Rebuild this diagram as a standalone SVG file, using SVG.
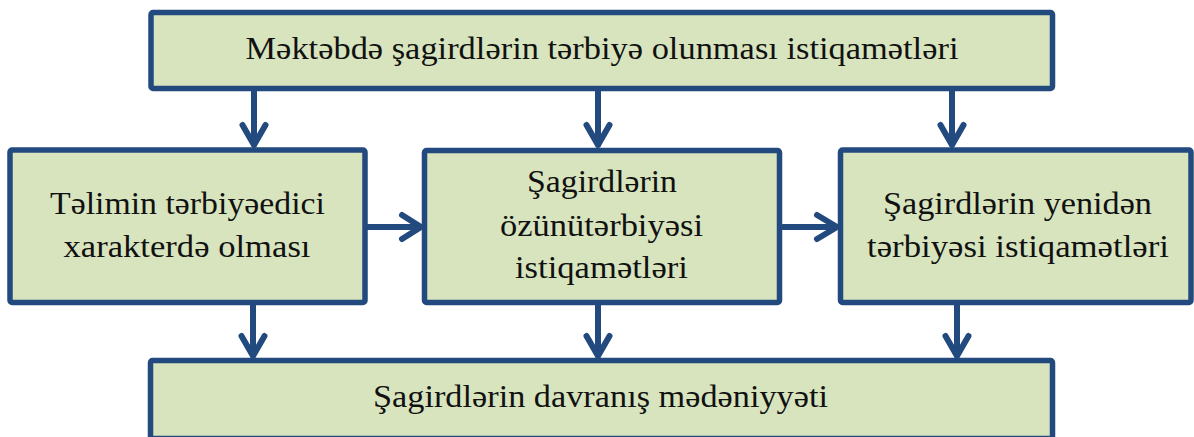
<svg xmlns="http://www.w3.org/2000/svg" width="1194" height="437" viewBox="0 0 1194 437">
<style>
.box{fill:#D8E4BE;stroke:#234A7E;stroke-width:5.5}
.t{font-family:"Liberation Serif","DejaVu Serif",serif;font-size:31px;fill:#111;text-anchor:middle}
.c{fill:none;stroke:#234A7E;stroke-width:6;stroke-linecap:round;stroke-linejoin:round}
</style>
<rect width="1194" height="437" fill="#fff"/>
<g id="top"><rect class="box" x="151" y="12.5" width="901.5" height="76" rx="2"/><text class="t" x="602" y="59" textLength="713" lengthAdjust="spacingAndGlyphs">Məktəbdə şagirdlərin tərbiyə olunması istiqamətləri</text></g>
<g id="left"><rect class="box" x="10" y="150" width="355" height="152.5" rx="2"/><text class="t" x="187.5" y="214" textLength="275" lengthAdjust="spacingAndGlyphs">Təlimin tərbiyəedici</text><text class="t" x="187" y="257" textLength="247" lengthAdjust="spacingAndGlyphs">xarakterdə olması</text></g>
<g id="middle"><rect class="box" x="424.5" y="150.5" width="355" height="152" rx="2"/><text class="t" x="602" y="192" textLength="150" lengthAdjust="spacingAndGlyphs">Şagirdlərin</text><text class="t" x="601.5" y="236" textLength="203" lengthAdjust="spacingAndGlyphs">özünütərbiyəsi</text><text class="t" x="601.5" y="278" textLength="173" lengthAdjust="spacingAndGlyphs">istiqamətləri</text></g>
<g id="right"><rect class="box" x="840.5" y="150" width="350.5" height="152.5" rx="2"/><text class="t" x="1017.5" y="214" textLength="269" lengthAdjust="spacingAndGlyphs">Şagirdlərin yenidən</text><text class="t" x="1018" y="257" textLength="302" lengthAdjust="spacingAndGlyphs">tərbiyəsi istiqamətləri</text></g>
<g id="bottom"><rect class="box" x="150.5" y="360.5" width="902" height="78" rx="2"/><text class="t" x="600.5" y="407" textLength="455" lengthAdjust="spacingAndGlyphs">Şagirdlərin davranış mədəniyyəti</text></g>
<g id="connectors">
<path class="c" d="M254 91V145M242.5 125L254 145L265.5 125"/>
<path class="c" d="M598 91V145M586.5 125L598 145L609.5 125"/>
<path class="c" d="M952 91V145M940.5 125L952 145L963.5 125"/>
<path class="c" d="M253 305V356M241.5 336L253 356L264.5 336"/>
<path class="c" d="M598 305V356M586.5 336L598 356L609.5 336"/>
<path class="c" d="M957 305V356M945.5 336L957 356L968.5 336"/>
<path class="c" d="M368 227H421M402 215L421 227L402 239"/>
<path class="c" d="M783 227H837M817 215L837 227L817 239"/>
</g>
</svg>
